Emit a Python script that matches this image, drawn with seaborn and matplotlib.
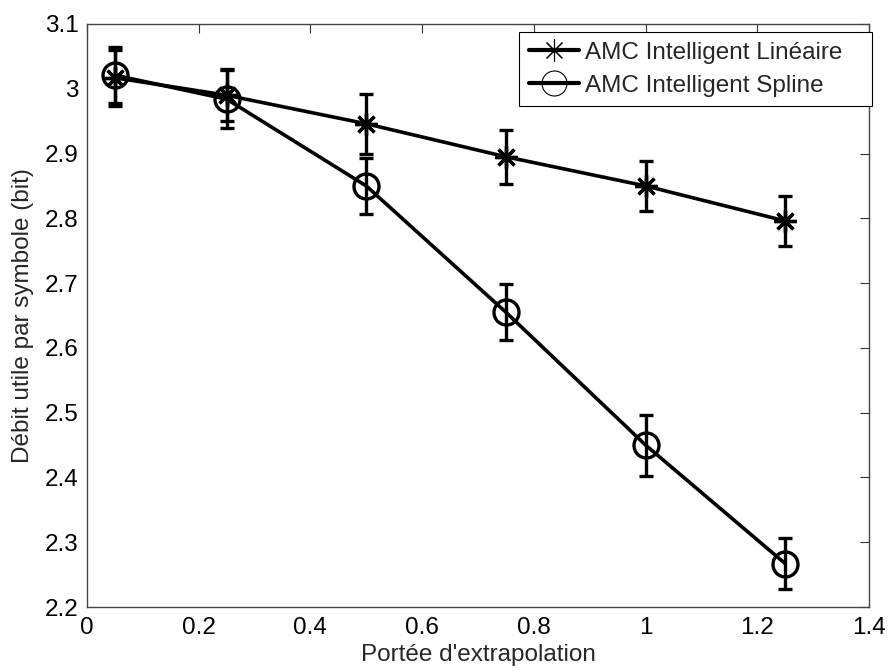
import matplotlib
matplotlib.use("Agg")
import matplotlib.pyplot as plt
import seaborn as sns
from matplotlib.lines import Line2D
from matplotlib.ticker import FuncFormatter

# Data
x_vals = [0.05, 0.25, 0.5, 0.75, 1.0, 1.25]
lin_vals = [3.017, 2.990, 2.946, 2.895, 2.850, 2.796]
lin_err = [0.043, 0.040, 0.046, 0.042, 0.039, 0.038]
spl_vals = [3.021, 2.984, 2.850, 2.655, 2.450, 2.267]
spl_err = [0.043, 0.045, 0.043, 0.043, 0.047, 0.039]
labels = ["AMC Intelligent Linéaire", "AMC Intelligent Spline"]
x_ticks = [0, 0.2, 0.4, 0.6, 0.8, 1.0, 1.2, 1.4]
y_ticks = [2.2, 2.3, 2.4, 2.5, 2.6, 2.7, 2.8, 2.9, 3.0, 3.1]

sns.set_style("white")
plt.rcParams['font.family'] = ['Liberation Sans', 'DejaVu Sans']
FS = 17.5

fig = plt.figure(figsize=(8.91, 6.71), dpi=100)
ax = fig.add_axes([87/891, 1 - 607/671, (869-87)/891, (607-24)/671])

aster = (8, 2, 0)
sns.lineplot(x=x_vals, y=lin_vals, color="black", marker=aster,
             markersize=16, linewidth=2.6, markeredgewidth=2.4,
             markeredgecolor="black", ax=ax, zorder=3)
sns.lineplot(x=x_vals, y=spl_vals, color="black", marker="o",
             markersize=18, linewidth=2.6, markeredgewidth=2.4,
             markerfacecolor="none", markeredgecolor="black", ax=ax, zorder=3)

ax.errorbar(x_vals, lin_vals, yerr=lin_err, fmt="none", ecolor="black",
            elinewidth=2.4, capsize=5, capthick=2.4, zorder=2)
ax.errorbar(x_vals, spl_vals, yerr=spl_err, fmt="none", ecolor="black",
            elinewidth=2.4, capsize=5, capthick=2.4, zorder=2)

ax.set_xlim(0, 1.4)
ax.set_ylim(2.2, 3.1)
ax.set_xticks(x_ticks)
ax.set_yticks(y_ticks)
fmt = FuncFormatter(lambda v, p: ("%g" % round(v, 2)))
ax.xaxis.set_major_formatter(fmt)
ax.yaxis.set_major_formatter(fmt)
ax.tick_params(direction="in", length=6.5, width=0.8, top=True, right=True,
               labelsize=FS, colors="#333333", labelcolor="black")
ax.tick_params(axis="y", pad=6)
ax.tick_params(axis="x", pad=7)
for s in ax.spines.values():
    s.set_visible(True)
    s.set_color("#444444")
    s.set_linewidth(1.0)

ax.set_xlabel("Portée d'extrapolation", fontsize=FS, labelpad=4)
ax.set_ylabel("Débit utile par symbole (bit)", fontsize=FS, labelpad=8)

handles = [
    Line2D([], [], color="black", linewidth=3.0, marker=aster, markersize=16,
           markeredgewidth=0.8, markerfacecolor="none", markeredgecolor="black"),
    Line2D([], [], color="black", linewidth=3.0, marker="o", markersize=18,
           markeredgewidth=0.8, markerfacecolor="none", markeredgecolor="black"),
]
leg_labels = [labels[0] + "   ", labels[1]]
leg = ax.legend(handles, leg_labels, loc="upper right",
                bbox_to_anchor=(872/891, 1 - 32/671), bbox_transform=fig.transFigure,
                borderaxespad=0, fontsize=FS, fancybox=False, framealpha=1,
                edgecolor="black", handlelength=2.05, handletextpad=0.25,
                labelspacing=0.45, borderpad=0.4)
leg.get_frame().set_linewidth(0.8)

fig.savefig("out.png", dpi=100)
